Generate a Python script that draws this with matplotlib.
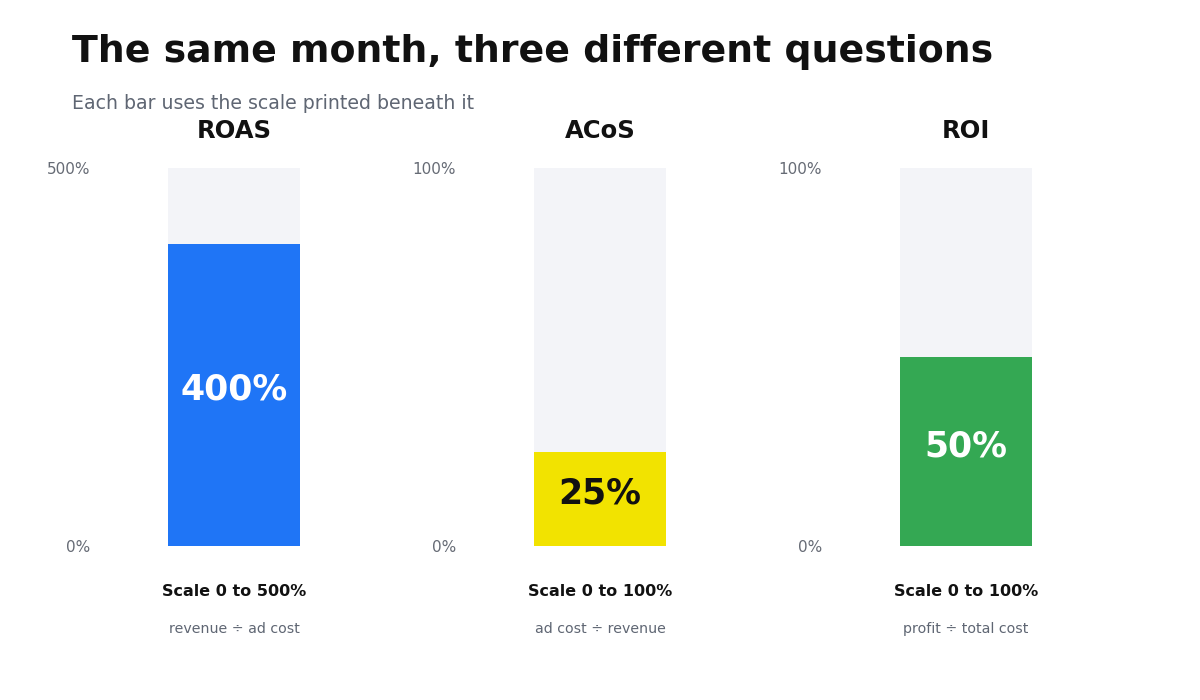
import matplotlib.pyplot as plt

plt.rcParams['font.family'] = ['DejaVu Sans']

## Data
metrics = ['ROAS', 'ACoS', 'ROI']
values = [400, 25, 50]
scale_max = [500, 100, 100]
scale_labels = ['Scale 0 to 500%', 'Scale 0 to 100%', 'Scale 0 to 100%']
formulas = ['revenue \u00f7 ad cost', 'ad cost \u00f7 revenue', 'profit \u00f7 total cost']

## Colour scheme
col = {}
col['ROAS'] = '#1f75f6'
col['ACoS'] = '#f2e300'
col['ROI'] = '#34a853'
col['track'] = '#f3f4f8'
txtcol = {'ROAS': 'white', 'ACoS': '#111111', 'ROI': 'white'}

W, H = 1200, 700
fig = plt.figure(figsize=(12, 7), dpi=100)

fig.text(72/W, 1 - 52/H, 'The same month, three different questions',
         fontsize=27.3, fontweight='bold', color='#111111', va='center')
fig.text(72/W, 1 - 103.5/H, 'Each bar uses the scale printed beneath it',
         fontsize=13.6, color='#5f6673', va='center')

lefts = [100, 466, 832]
for i, m in enumerate(metrics):
    ax = fig.add_axes([lefts[i]/W, (H - 546)/H, 268/W, 378/H])
    ax.bar(0, scale_max[i], width=0.985, color=col['track'], zorder=1)
    ax.bar(0, values[i], width=0.985, color=col[m], zorder=2)
    ax.annotate(f'{values[i]}%', (0, values[i]/2), xytext=(0, 3.5), textcoords='offset points',
                ha='center', va='center', fontsize=25, fontweight='bold',
                color=txtcol[m], zorder=3)
    ax.set_xlim(-1, 1)
    ax.set_ylim(0, scale_max[i])
    ax.set_yticks([0, scale_max[i]])
    ax.set_yticklabels(['0%', f'{scale_max[i]}%'])
    ax.tick_params(axis='y', length=0, pad=7, labelsize=11, labelcolor='#666b75')
    ax.set_xticks([])
    for s in ax.spines.values():
        s.set_visible(False)
    ax.set_title(m, fontsize=17.5, fontweight='bold', color='#111111', pad=21.5)
    ax.text(0, -45/378*scale_max[i], scale_labels[i], ha='center', va='center',
            fontsize=11.5, fontweight='bold', color='#111111')
    ax.text(0, -83/378*scale_max[i], formulas[i], ha='center', va='center',
            fontsize=10.2, color='#5f6673')

fig.savefig('out.png', dpi=100)
